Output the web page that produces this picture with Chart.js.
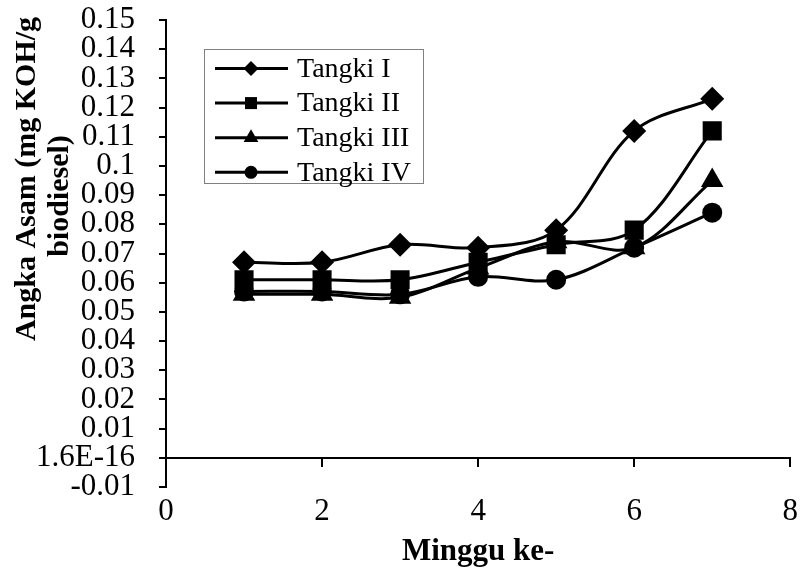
<!DOCTYPE html>
<html>
<head>
<meta charset="utf-8">
<script src="https://cdn.jsdelivr.net/npm/chart.js@4.4.1/dist/chart.umd.min.js"></script>
<style>
  html, body { margin: 0; padding: 0; background: #fff; }
  #wrap { width: 804px; height: 575px; }
</style>
</head>
<body>
<div id="wrap"><canvas id="asamChart" width="804" height="575"></canvas></div>
<script>
// weekly acid number per tank
const weeks = [1, 2, 3, 4, 5, 6, 7];
const tangki1 = [0.067, 0.067, 0.073, 0.072, 0.078, 0.112, 0.123];
const tangki2 = [0.061, 0.061, 0.061, 0.067, 0.073, 0.078, 0.112];
const tangki3 = [0.056, 0.056, 0.055, 0.065, 0.074, 0.072, 0.095];
const tangki4 = [0.057, 0.057, 0.056, 0.062, 0.061, 0.072, 0.084];
const seriesNames = ['Tangki I', 'Tangki II', 'Tangki III', 'Tangki IV'];
const seriesValues = [tangki1, tangki2, tangki3, tangki4];

const xTickLabels = ['0', '2', '4', '6', '8'];
const yTickLabels = ['-0.01', '1.6E-16', '0.01', '0.02', '0.03', '0.04', '0.05', '0.06',
  '0.07', '0.08', '0.09', '0.1', '0.11', '0.12', '0.13', '0.14', '0.15'];
const xTitle = 'Minggu ke-';
const yTitleLines = ['Angka Asam (mg KOH/g', 'biodiesel)'];

const markerStyles = ['rectRot', 'rect', 'triangle', 'circle'];
const markerRadius = [12, 13.5, 13, 10];
const legendRadius = [7.5, 8.5, 8.5, 6.5];
const serif = "'Liberation Serif', 'Times New Roman', serif";

// boxed legend sitting inside the plot, line sample + marker + name
const boxLegend = {
  id: 'boxLegend',
  afterDraw(chart) {
    const { ctx, chartArea } = chart;
    const left = chartArea.left + 38, top = chartArea.top + 29;
    const w = 219, h = 134;
    ctx.save();
    ctx.fillStyle = '#fff';
    ctx.fillRect(left, top, w, h);
    ctx.strokeStyle = '#808080';
    ctx.lineWidth = 1;
    ctx.strokeRect(left + 0.5, top + 0.5, w, h);
    chart.data.datasets.forEach((ds, i) => {
      const y = top + 19.5 + i * 34.6;
      ctx.strokeStyle = '#000';
      ctx.lineWidth = 3;
      ctx.beginPath();
      ctx.moveTo(left + 11, y);
      ctx.lineTo(left + 84, y);
      ctx.stroke();
      ctx.fillStyle = '#000';
      Chart.helpers.drawPoint(ctx, { pointStyle: ds.pointStyle, radius: legendRadius[i], borderWidth: 0, rotation: 0 }, left + 47, y);
      ctx.font = '28px ' + serif;
      ctx.textAlign = 'left';
      ctx.textBaseline = 'middle';
      ctx.fillText(ds.label, left + 93, y + 1);
    });
    ctx.restore();
  }
};

// two-line rotated title for the value axis
const yAxisTitle = {
  id: 'yAxisTitle',
  afterDraw(chart) {
    const { ctx } = chart;
    const spots = [[27, 179], [60, 196]];
    ctx.save();
    ctx.font = 'bold 30px ' + serif;
    ctx.fillStyle = '#000';
    ctx.textAlign = 'center';
    ctx.textBaseline = 'middle';
    yTitleLines.forEach((line, i) => {
      ctx.save();
      ctx.translate(spots[i][0], spots[i][1]);
      ctx.rotate(-Math.PI / 2);
      ctx.fillText(line, 0, 0);
      ctx.restore();
    });
    ctx.restore();
  }
};

const ctx = document.getElementById('asamChart').getContext('2d');
const chart = new Chart(ctx, {
  type: 'line',
  data: {
    datasets: seriesNames.map((name, i) => ({
      label: name,
      data: weeks.map((w, j) => ({ x: w, y: seriesValues[i][j] })),
      borderColor: '#000',
      backgroundColor: '#000',
      borderWidth: 3,
      pointStyle: markerStyles[i],
      pointRadius: markerRadius[i],
      pointBorderWidth: 0,
      tension: 0.34,
      fill: false,
      order: seriesNames.length - i,
      xAxisID: 'x',
      yAxisID: 'y'
    }))
  },
  options: {
    responsive: false,
    animation: false,
    layout: { padding: { top: 20, right: 12, left: 0, bottom: 0 } },
    plugins: {
      legend: { display: false },
      tooltip: { enabled: false }
    },
    scales: {
      x: {
        type: 'linear',
        min: 0,
        max: 8,
        afterFit(scale) { scale.height = 88; },
        border: { display: false },
        grid: { display: false, drawTicks: false },
        ticks: {
          stepSize: 2,
          autoSkip: false,
          maxRotation: 0,
          padding: 6,
          color: '#000',
          font: { family: serif, size: 31 },
          callback: (v) => xTickLabels[Math.round(v / 2)]
        },
        title: {
          display: true,
          text: xTitle,
          color: '#000',
          font: { family: serif, size: 31, weight: 'bold' },
          padding: { top: 0, bottom: 4 }
        }
      },
      // horizontal axis line crossing at zero, ticks hanging below it
      xZero: {
        type: 'linear',
        min: 0,
        max: 8,
        position: { y: 0 },
        border: { display: true, color: '#000', width: 2 },
        grid: { drawOnChartArea: false, drawTicks: true, tickLength: 8, color: '#000', lineWidth: 2 },
        ticks: { display: false, stepSize: 2 }
      },
      y: {
        type: 'linear',
        min: -0.01,
        max: 0.15,
        afterFit(scale) {
          scale.width = 166;
          // labels may overhang the plot edges; layout padding already covers them
          scale.paddingTop = 0;
          scale.paddingBottom = 0;
        },
        border: { display: true, color: '#000', width: 2 },
        grid: { drawOnChartArea: false, drawTicks: true, tickLength: 7, color: '#000', lineWidth: 2 },
        ticks: {
          stepSize: 0.01,
          autoSkip: false,
          padding: 24,
          color: '#000',
          font: { family: serif, size: 31, lineHeight: 1 },
          callback: (v) => yTickLabels[Math.round(v * 100) + 1]
        }
      }
    }
  },
  plugins: [boxLegend, yAxisTitle]
});
</script>
</body>
</html>
